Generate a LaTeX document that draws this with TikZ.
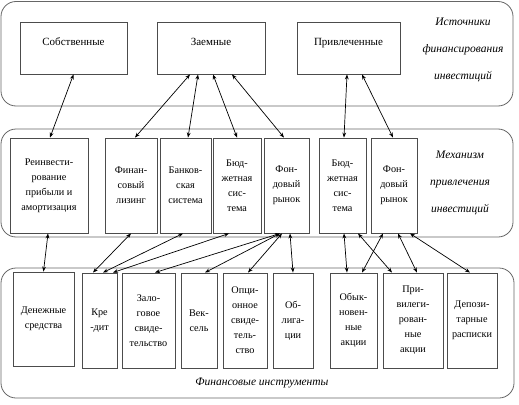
\documentclass[tikz,border=0pt]{standalone}
\usepackage{fontspec}
\setmainfont{Liberation Serif}
\usetikzlibrary{arrows.meta}

\begin{document}
\begin{tikzpicture}[x=1pt, y=-1pt,
    panel/.style={draw=black!60, line width=0.8pt, rounded corners=15pt},
    box/.style={draw=black!70, line width=0.9pt, fill=white, align=center, inner sep=1pt,
                font=\fontsize{10.2}{15}\selectfont},
    bigbox/.style={box, text depth=12pt, font=\fontsize{11}{13}\selectfont},
    note/.style={align=center, font=\fontsize{11.5}{27}\selectfont\itshape},
    link/.style={<->, >={Stealth[length=5pt, width=3.8pt]}, line width=0.7pt}]
    \useasboundingbox (0,0) rectangle (519,404);

    % Draw panels
    \draw[panel] (1,1.5) rectangle (513,106);
    \draw[panel] (1,129) rectangle (513,237);
    \draw[panel] (1,268) rectangle (514,398);

    % Draw nodes (sources)
    \node[bigbox, minimum width=107pt, minimum height=52pt] (own) at (73.5,48) {Собственные};
    \node[bigbox, minimum width=108pt, minimum height=52pt] (loan) at (211,48) {Заемные};
    \node[bigbox, minimum width=103pt, minimum height=52pt] (attr) at (348.5,48) {Привлеченные};

    % Draw nodes (mechanism)
    \node[box, minimum width=78pt, minimum height=95pt] (reinv) at (49,185.5) {Реинвести-\\рование\\прибыли и\\амортизация};
    \node[box, minimum width=52pt, minimum height=95pt] (lease) at (131,185.5) {Финан-\\совый\\лизинг};
    \node[box, minimum width=51pt, minimum height=95pt] (bank) at (185.5,185.5) {Банков-\\ская\\система};
    \node[box, minimum width=48pt, minimum height=95pt] (budg) at (237,185.5) {Бюд-\\жетная\\сис-\\тема};
    \node[box, minimum width=45pt, minimum height=95pt] (stock) at (286.5,185.5) {Фон-\\довый\\рынок};
    \node[box, minimum width=47pt, minimum height=95pt] (budgb) at (342.5,185.5) {Бюд-\\жетная\\сис-\\тема};
    \node[box, minimum width=46pt, minimum height=95pt] (stockb) at (394,185.5) {Фон-\\довый\\рынок};

    % Draw nodes (instruments)
    \node[box, minimum width=61pt, minimum height=94pt] (cash) at (43.5,319) {Денежные\\средства};
    \node[box, minimum width=35pt, minimum height=95pt] (credit) at (99.5,320.5) {Кре\\-дит};
    \node[box, minimum width=53pt, minimum height=95pt] (pledge) at (148.5,320.5) {Зало-\\говое\\свиде-\\тельство};
    \node[box, minimum width=36pt, minimum height=95pt] (bill) at (199,320.5) {Век-\\сель};
    \node[box, minimum width=44pt, minimum height=95pt] (option) at (245,320.5) {Опци-\\онное\\свиде-\\тель-\\ство};
    \node[box, minimum width=40pt, minimum height=95pt] (bonds) at (293,320.5) {Об-\\лига-\\ции};
    \node[box, minimum width=47pt, minimum height=95pt] (common) at (353.5,320.5) {Обык-\\новен-\\ные\\акции};
    \node[box, minimum width=60pt, minimum height=95pt] (pref) at (413,320.5) {При-\\вилеги-\\рован-\\ные\\акции};
    \node[box, minimum width=50pt, minimum height=95pt] (receipt) at (472,320.5) {Депози-\\тарные\\расписки};

    % Draw connections (sources -- mechanism)
    \draw[link] ([xshift=1pt]reinv.north) -- (own.south);
    \draw[link] ([xshift=4pt]lease.north) -- ([xshift=-21pt]loan.south);
    \draw[link] ([xshift=2.5pt]bank.north) -- ([xshift=-13pt]loan.south);
    \draw[link] (budg.north) -- ([xshift=2pt]loan.south);
    \draw[link] ([xshift=-2.5pt]stock.north) -- ([xshift=21pt]loan.south);
    \draw[link] ([xshift=1.5pt]budgb.north) -- ([xshift=-1.5pt]attr.south);
    \draw[link] ([xshift=-1pt]stockb.north) -- ([xshift=13.5pt]attr.south);

    % Draw connections (mechanism -- instruments)
    \draw[link] ([xshift=-1pt]reinv.south) -- (cash.north);
    \draw[link] (lease.south) -- ([xshift=-6.5pt]credit.north);
    \draw[link] ([xshift=-2.5pt]bank.south) -- ([xshift=3.5pt]credit.north);
    \draw[link] ([xshift=-8pt]budg.south) -- ([xshift=13.5pt]credit.north);
    \draw[link] ([xshift=-6.5pt]stock.south) -- ([xshift=6.5pt]pledge.north);
    \draw[link] ([xshift=-6.5pt]stock.south) -- ([xshift=6pt]bill.north);
    \draw[link] ([xshift=-4.5pt]stock.south) -- ([xshift=3pt]option.north);
    \draw[link] ([xshift=3.5pt]stock.south) -- (bonds.north);
    \draw[link] ([xshift=1.5pt]budgb.south) -- ([xshift=-6.5pt]common.north);
    \draw[link] ([xshift=15.5pt]budgb.south) -- ([xshift=-21pt]pref.north);
    \draw[link] ([xshift=-11pt]stockb.south) -- ([xshift=8.5pt]common.north);
    \draw[link] ([xshift=4pt]stockb.south) -- ([xshift=4pt]pref.north);
    \draw[link] ([xshift=16pt]stockb.south) -- ([xshift=-2pt]receipt.north);

    % Labels
    \node[note] (srcnote) at (463,50) {Источники\\финансирования\\инвестиций};
    \node[note] (mechnote) at (460,183) {Механизм\\привлечения\\инвестиций};
    \node[note] (instrnote) at (262,383) {Финансовые инструменты};
\end{tikzpicture}
\end{document}
